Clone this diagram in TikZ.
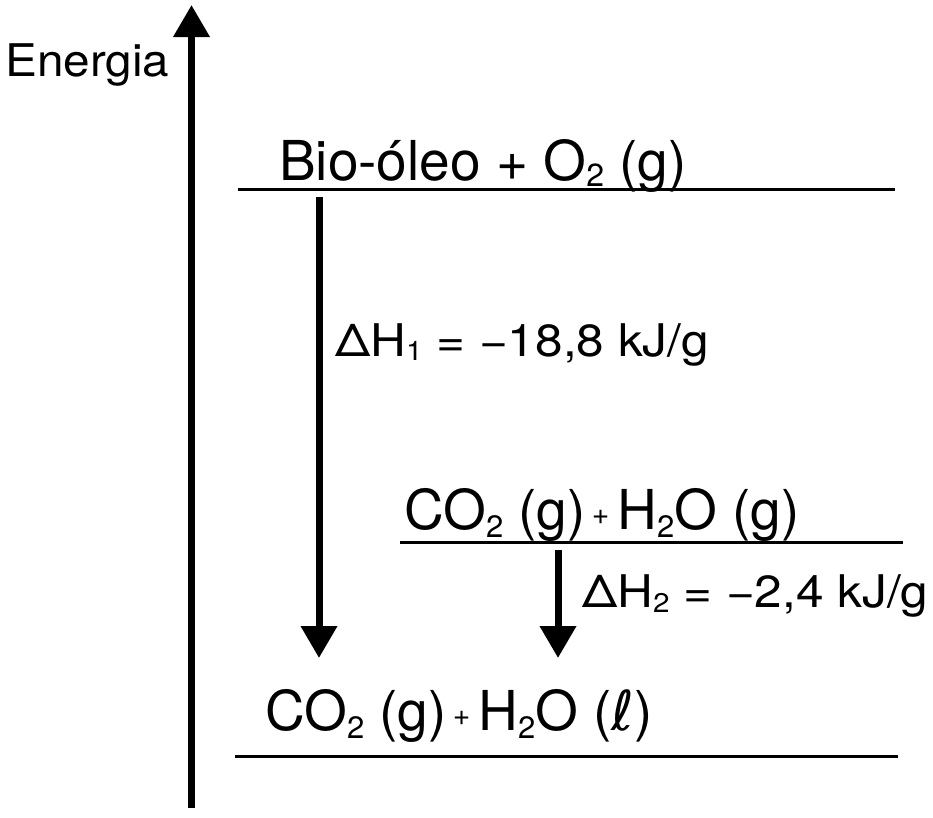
\documentclass[tikz,border=0pt]{standalone}
\usepackage{fontspec}
\setmainfont{TeX Gyre Heros}
\newfontfamily\ellfont{DejaVu Sans}
\usetikzlibrary{arrows.meta}
\newcommand\lsub[3]{\raisebox{-#2pt}{\fontsize{#1}{#1}\selectfont #3}}
\newcommand\splus{\kern6pt\raisebox{5pt}{\fontsize{30}{30}\selectfont +}\kern8pt}
\newcommand\wide[2]{\scalebox{#1}[1]{#2}}
\newcommand\scriptell{{\ellfont\itshape ℓ}}
\tikzset{
  lvl/.style={line width=3pt},
  axisarrow/.style={line width=7pt,-{Triangle[length=32pt,width=35pt]}},
  rxarrow/.style={line width=7pt,-{Triangle[length=32pt,width=35pt]}},
  big/.style={anchor=base west,inner sep=0pt,font=\fontsize{55}{60}\selectfont},
  mid/.style={anchor=base west,inner sep=0pt,font=\fontsize{45}{50}\selectfont},
}
\begin{document}
\begin{tikzpicture}[x=1pt,y=-1pt]
\useasboundingbox (0,0) rectangle (933,817);
% axis
\coordinate (axb) at (191.5,808);
\coordinate (axt) at (191.5,5);
\draw[axisarrow] (axb) -- (axt);
\node[anchor=base west,inner sep=0pt,font=\fontsize{45}{50}\selectfont] (en) at (5,76) {\wide{1.06}{Energia}};
% levels
\coordinate (t1) at (238,189); \coordinate (t2) at (895,189);
\coordinate (m1) at (400,542); \coordinate (m2) at (903,542);
\coordinate (b1) at (235,756); \coordinate (b2) at (898,756);
\draw[lvl] (t1) -- (t2);
\draw[lvl] (m1) -- (m2);
\draw[lvl] (b1) -- (b2);
% labels
\node[big] (top) at (279,180) {Bio-óleo + O\lsub{32}{6}{2} (g)};
\node[big] (midl) at (404,529) {CO\lsub{31}{8}{2} (g)\splus H\lsub{31}{8}{2}O (g)};
\node[big] (bot) at (265,730) {CO\lsub{31}{8}{2} (g)\splus H\lsub{31}{8}{2}O (\scriptell)};
\node[mid] (dh1) at (335,356) {\wide{1.1}{ΔH\lsub{27}{4}{1} = −18,8 kJ/g}};
\node[mid] (dh2) at (582,607) {\wide{1.1}{ΔH\lsub{27}{5}{2} = −2,4 kJ/g}};
% reaction arrows
\coordinate (a1s) at (319,197); \coordinate (a1e) at (319,658);
\coordinate (a2s) at (558,550); \coordinate (a2e) at (558,658);
\draw[rxarrow] (a1s) -- (a1e);
\draw[rxarrow] (a2s) -- (a2e);
\end{tikzpicture}
\end{document}
